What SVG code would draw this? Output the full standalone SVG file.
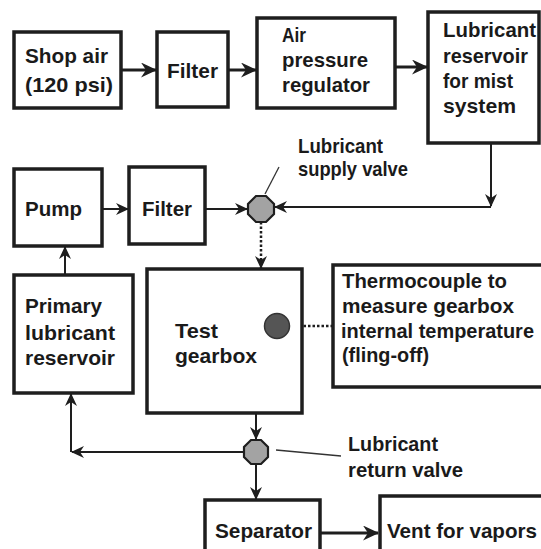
<svg xmlns="http://www.w3.org/2000/svg" width="541" height="549" viewBox="0 0 541 549">
<style>
.box{fill:#fff;stroke:#1e1e1e;stroke-width:3.5}
.t{font-family:"Liberation Sans",Arial,sans-serif;font-weight:bold;font-size:21px;fill:#1a1a1a}
.t19{font-size:19.5px}
.c{fill:none;stroke:#1e1e1e;stroke-width:2}
.ct{fill:none;stroke:#1e1e1e;stroke-width:3}
.d{fill:none;stroke:#1e1e1e;stroke-width:2.5;stroke-dasharray:2.5,2}
.ld{fill:none;stroke:#333;stroke-width:1.3}
.valve{fill:#a3a3a3;stroke:#1e1e1e;stroke-width:2.2}
</style>
<defs>
<marker id="a" markerUnits="userSpaceOnUse" markerWidth="14" markerHeight="12" refX="12" refY="6" orient="auto">
<path d="M0,0 L13,6 L0,12 L4,6 z" fill="#1e1e1e"/>
</marker>
<marker id="A" markerUnits="userSpaceOnUse" markerWidth="17" markerHeight="15" refX="15" refY="7.5" orient="auto">
<path d="M0,0 L16,7.5 L0,15 L5,7.5 z" fill="#1e1e1e"/>
</marker>
</defs>
<rect width="541" height="549" fill="#fff"/>

<g id="connectors">
<line class="ct" x1="122" y1="70" x2="156" y2="70" marker-end="url(#A)"/>
<line class="ct" x1="229" y1="70" x2="256" y2="70" marker-end="url(#A)"/>
<line class="ct" x1="396" y1="67" x2="427" y2="67" marker-end="url(#A)"/>
<line class="c" x1="491" y1="144" x2="491" y2="206" marker-end="url(#a)"/>
<line class="c" x1="491" y1="207" x2="275" y2="207" marker-end="url(#a)"/>
<line class="c" x1="103" y1="209" x2="128" y2="209" marker-end="url(#a)"/>
<line class="c" x1="206" y1="209" x2="247" y2="209" marker-end="url(#a)"/>
<line class="d" x1="261" y1="222" x2="261" y2="268" marker-end="url(#a)"/>
<line class="c" x1="65" y1="275" x2="65" y2="247" marker-end="url(#a)"/>
<line class="d" x1="290" y1="326" x2="333" y2="326"/>
<line class="c" x1="256" y1="414" x2="256" y2="439" marker-end="url(#a)"/>
<line class="c" x1="243" y1="452" x2="72" y2="452" marker-end="url(#a)"/>
<line class="c" x1="71" y1="452" x2="71" y2="394" marker-end="url(#a)"/>
<line class="c" x1="256" y1="464" x2="256" y2="499" marker-end="url(#a)"/>
<line class="ct" x1="321" y1="533" x2="378" y2="533" marker-end="url(#A)"/>
<line class="ld" x1="265" y1="194" x2="279" y2="167"/>
<line class="ld" x1="276" y1="450" x2="341" y2="456"/>
</g>

<g id="shop-air">
<rect class="box" x="14" y="32" width="107" height="76"/>
<text class="t" x="25" y="63" textLength="83" lengthAdjust="spacingAndGlyphs">Shop air</text>
<text class="t" x="25" y="92" textLength="88" lengthAdjust="spacingAndGlyphs">(120 psi)</text>
</g>
<g id="filter-air">
<rect class="box" x="157" y="32" width="71" height="75"/>
<text class="t" x="167" y="78" textLength="51" lengthAdjust="spacingAndGlyphs">Filter</text>
</g>
<g id="air-pressure-regulator">
<rect class="box" x="257" y="18" width="138" height="90"/>
<text class="t" x="282" y="42" textLength="24" lengthAdjust="spacingAndGlyphs">Air</text>
<text class="t" x="282" y="67" textLength="86" lengthAdjust="spacingAndGlyphs">pressure</text>
<text class="t" x="282" y="92" textLength="88" lengthAdjust="spacingAndGlyphs">regulator</text>
</g>
<g id="mist-reservoir">
<rect class="box" x="428" y="12" width="111" height="131"/>
<text class="t" x="443" y="37" textLength="93" lengthAdjust="spacingAndGlyphs">Lubricant</text>
<text class="t" x="443" y="63" textLength="85" lengthAdjust="spacingAndGlyphs">reservoir</text>
<text class="t" x="443" y="88" textLength="70" lengthAdjust="spacingAndGlyphs">for mist</text>
<text class="t" x="443" y="113" textLength="73" lengthAdjust="spacingAndGlyphs">system</text>
</g>
<g id="supply-valve">
<polygon class="valve" points="256,196 266,196 274,204 274,214 266,222 256,222 248,214 248,204"/>
<text class="t" x="298" y="153" textLength="85" lengthAdjust="spacingAndGlyphs">Lubricant</text>
<text class="t" x="298" y="176" textLength="110" lengthAdjust="spacingAndGlyphs">supply valve</text>
</g>
<g id="pump">
<rect class="box" x="14" y="169" width="88" height="77"/>
<text class="t" x="25" y="216" textLength="57" lengthAdjust="spacingAndGlyphs">Pump</text>
</g>
<g id="filter-lube">
<rect class="box" x="129" y="167" width="76" height="77"/>
<text class="t" x="142" y="216" textLength="50" lengthAdjust="spacingAndGlyphs">Filter</text>
</g>
<g id="primary-reservoir">
<rect class="box" x="14" y="275" width="119" height="118"/>
<text class="t" x="25" y="313" textLength="77" lengthAdjust="spacingAndGlyphs">Primary</text>
<text class="t" x="25" y="340" textLength="90" lengthAdjust="spacingAndGlyphs">lubricant</text>
<text class="t" x="25" y="365" textLength="90" lengthAdjust="spacingAndGlyphs">reservoir</text>
</g>
<g id="test-gearbox">
<rect class="box" x="147" y="269" width="155" height="144"/>
<text class="t" x="175" y="338" textLength="43" lengthAdjust="spacingAndGlyphs">Test</text>
<text class="t" x="175" y="363" textLength="82" lengthAdjust="spacingAndGlyphs">gearbox</text>
<circle cx="277" cy="326" r="12.5" fill="#555" stroke="#333" stroke-width="1.5"/>
</g>
<g id="thermocouple">
<rect class="box" x="333" y="265" width="220" height="122"/>
<text class="t" x="342" y="288" textLength="165" lengthAdjust="spacingAndGlyphs">Thermocouple to</text>
<text class="t" x="342" y="313" textLength="172" lengthAdjust="spacingAndGlyphs">measure gearbox</text>
<text class="t t19" x="341" y="338" textLength="193" lengthAdjust="spacingAndGlyphs">internal temperature</text>
<text class="t" x="342" y="362" textLength="87" lengthAdjust="spacingAndGlyphs">(fling-off)</text>
</g>
<g id="return-valve">
<polygon class="valve" points="251,440 261,440 268,447 268,457 261,464 251,464 244,457 244,447"/>
<text class="t" x="348" y="451" textLength="90" lengthAdjust="spacingAndGlyphs">Lubricant</text>
<text class="t" x="348" y="477" textLength="115" lengthAdjust="spacingAndGlyphs">return valve</text>
</g>
<g id="separator">
<rect class="box" x="205" y="500" width="115" height="60"/>
<text class="t" x="215" y="538" textLength="97" lengthAdjust="spacingAndGlyphs">Separator</text>
</g>
<g id="vent">
<rect class="box" x="380" y="496" width="170" height="64"/>
<text class="t" x="387" y="538" textLength="150" lengthAdjust="spacingAndGlyphs">Vent for vapors</text>
</g>
</svg>
